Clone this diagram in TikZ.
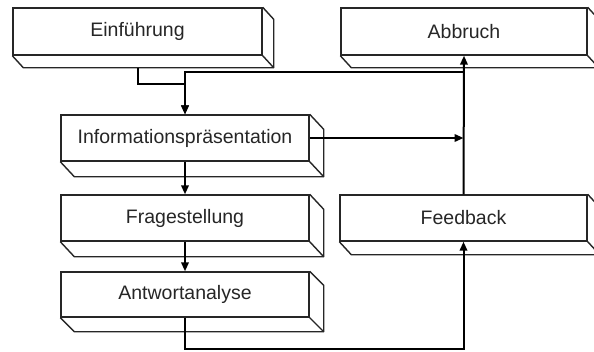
\documentclass[tikz,border=0pt]{standalone}
\usepackage{fontspec}
\setmainfont{Liberation Sans}
\usetikzlibrary{calc,arrows.meta}
\tikzset{
  frontbox/.style={draw=black!85, line width=1.4pt, fill=white, inner sep=0pt,
    minimum width=248pt, minimum height=47pt, text=black!85,
    font=\fontsize{19.5}{22}\selectfont},
  boxline/.style={draw=black!85, line width=1.4pt, line join=round},
  conn/.style={draw=black, line width=2pt},
  tip/.style={-{Triangle[length=9pt,width=7.5pt]}}
}
\newcommand{\boxextrude}[3]{%
  \draw[boxline] (#1.south west) -- ++(#2,#3) -- ($(#1.south east)+(#2,#3)$)
     -- ($(#1.north east)+(#2,#3)$) -- (#1.north east);
  \draw[boxline] (#1.south east) -- ++(#2,#3);
}
\begin{document}
\begin{tikzpicture}[x=1pt,y=-1pt]
\useasboundingbox (0,0) rectangle (594,351);
\clip (0,0) rectangle (594,351);
\fill[white] (0,0) rectangle (594,351);

\node[frontbox, minimum width=249pt] (einf) at (137.5,31.5) {Einführung};
\node[frontbox, minimum width=246pt] (abb) at (464,31.5) {Abbruch};
\node[frontbox, minimum height=46pt] (info) at (185,138) {Informationspräsentation};
\node[frontbox, minimum height=46pt] (frag) at (185,218) {Fragestellung};
\node[frontbox, minimum height=45pt] (antw) at (185,294.5) {Antwortanalyse};
\node[frontbox, minimum width=247pt, minimum height=46pt] (fb) at (463.5,218) {Feedback};

\boxextrude{einf}{11}{12}
\boxextrude{abb}{11}{12}
\boxextrude{info}{14}{15}
\boxextrude{frag}{14}{15}
\boxextrude{antw}{14}{14}
\boxextrude{fb}{12}{13}

\coordinate (ylevel) at (0,72);

% Einfuehrung -> Informationspraesentation
\draw[conn, tip] ([yshift=-12pt]einf.south) -- ++(0,16) -| (info.north);
% Feedback -> Abbruch
\draw[conn, tip] (fb.north) -- (abb.south);
% Feedback -> Informationspraesentation
\draw[conn, tip] (fb.north |- ylevel) -| (info.north);
% Informationspraesentation -> Feedback line
\draw[conn, tip] (info.east) -- (info.east -| fb.north);
% Informationspraesentation -> Fragestellung
\draw[conn, tip] (info.south) -- (frag.north);
% Fragestellung -> Antwortanalyse
\draw[conn, tip] (frag.south) -- (antw.north);
% Antwortanalyse -> Feedback
\draw[conn, tip] (antw.south) -- ++(0,31) -| (fb.south);
\end{tikzpicture}
\end{document}
